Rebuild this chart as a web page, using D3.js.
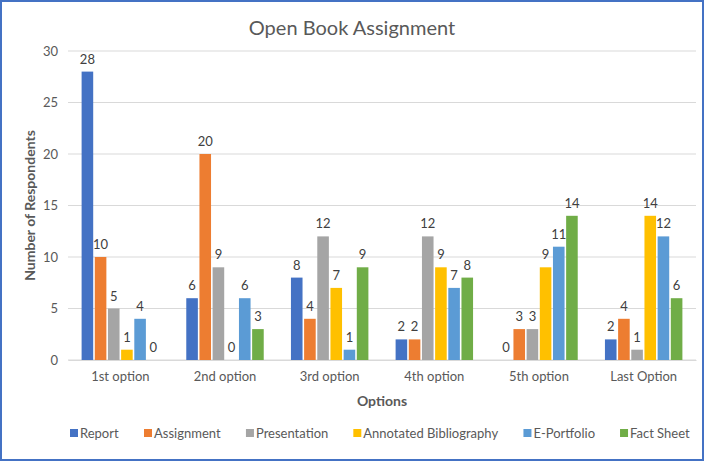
<!DOCTYPE html>
<html><head><meta charset="utf-8">
<script src="https://cdn.jsdelivr.net/npm/d3@7"></script>
<style>body{margin:0;background:#fff}svg{display:block}text{font-family:Lato,"Open Sans",sans-serif}</style>
</head><body><svg id="c" width="704" height="461"></svg>
<script>
const categories = ["1st option","2nd option","3rd option","4th option","5th option","Last Option"];
const seriesNames = ["Report","Assignment","Presentation","Annotated Bibliography","E-Portfolio","Fact Sheet"];
const seriesColors = ["#4472C4","#ED7D31","#A5A5A5","#FFC000","#5B9BD5","#70AD47"];
const report = [28,6,8,2,0,2];
const assignment = [10,20,4,2,3,4];
const presentation = [5,9,12,12,3,1];
const annotated = [1,0,7,9,9,14];
const eportfolio = [4,6,1,7,11,12];
const factSheet = [0,3,9,8,14,6];
const yTicks = [0,5,10,15,20,25,30];
const seriesValues = [report,assignment,presentation,annotated,eportfolio,factSheet];

const svg = d3.select("#c");
const W=704,H=461;
svg.append("rect").attr("x",1).attr("y",1).attr("width",W-2).attr("height",H-2)
  .attr("fill","#fff").attr("stroke","#4472C4").attr("stroke-width",2);

const m={l:68,r:8,t:51,b:101};
const x0=d3.scaleBand().domain(categories).range([m.l,W-m.r]).paddingInner(0.26).paddingOuter(0.13);
const x1=d3.scaleBand().domain(seriesNames).range([0,x0.bandwidth()]).paddingInner(0.12);
const y=d3.scaleLinear().domain([0,30]).range([H-m.b,m.t]);

svg.append("g").selectAll("line").data(yTicks).join("line")
  .attr("x1",m.l).attr("x2",W-m.r).attr("y1",d=>y(d)).attr("y2",d=>y(d))
  .attr("stroke","#D9D9D9").attr("stroke-width",1);

const ya=svg.append("g").attr("transform",`translate(${m.l},0)`)
  .call(d3.axisLeft(y).tickValues(yTicks).tickSize(0).tickPadding(10));
ya.select(".domain").remove();
ya.selectAll("text").attr("fill","#595959").style("font-size","13px");

const xa=svg.append("g").attr("transform",`translate(0,${y(0)})`)
  .call(d3.axisBottom(x0).tickSize(0).tickPadding(12));
xa.select(".domain").attr("stroke","#D9D9D9");
xa.selectAll("text").attr("fill","#595959").style("font-size","13px");

const rows=categories.map((c,i)=>({c,vals:seriesNames.map((s,j)=>({s,j,v:seriesValues[j][i]}))}));
const g=svg.append("g").selectAll("g").data(rows).join("g").attr("transform",d=>`translate(${x0(d.c)},0)`);
g.selectAll("rect").data(d=>d.vals).join("rect")
  .attr("x",d=>x1(d.s)).attr("width",x1.bandwidth())
  .attr("y",d=>y(d.v)).attr("height",d=>y(0)-y(d.v))
  .attr("fill",d=>seriesColors[d.j]);
g.selectAll("text").data(d=>d.vals).join("text")
  .attr("x",d=>x1(d.s)+x1.bandwidth()/2).attr("y",d=>y(d.v)-8)
  .attr("text-anchor","middle").attr("fill","#404040").style("font-size","13px")
  .text(d=>d.v);

svg.append("text").attr("x",352).attr("y",35).attr("text-anchor","middle")
  .attr("fill","#595959").style("font-size","20px").text("Open Book Assignment");
svg.append("text").attr("transform",`translate(35,${(y(0)+y(30))/2}) rotate(-90)`)
  .attr("text-anchor","middle").attr("fill","#595959").style("font-size","14px").style("font-weight","bold")
  .text("Number of Respondents");
svg.append("text").attr("x",(m.l+W-m.r)/2).attr("y",406).attr("text-anchor","middle")
  .attr("fill","#595959").style("font-size","14px").style("font-weight","bold").text("Options");

const lg=svg.append("g");
const items=lg.selectAll("g").data(seriesNames).join("g");
items.append("rect").attr("width",8).attr("height",8).attr("y",-9).attr("fill",(d,i)=>seriesColors[i]);
items.append("text").attr("x",10).attr("y",0).attr("fill","#595959").style("font-size","13px").text(d=>d);
const widths=[];
items.each(function(){widths.push(this.getBBox().width);});
const span=620, startX=70;
const gap=(span-d3.sum(widths))/(widths.length-1);
let cx=startX;
items.attr("transform",(d,i)=>{const t=`translate(${cx},438)`; cx+=widths[i]+gap; return t;});
</script></body></html>
